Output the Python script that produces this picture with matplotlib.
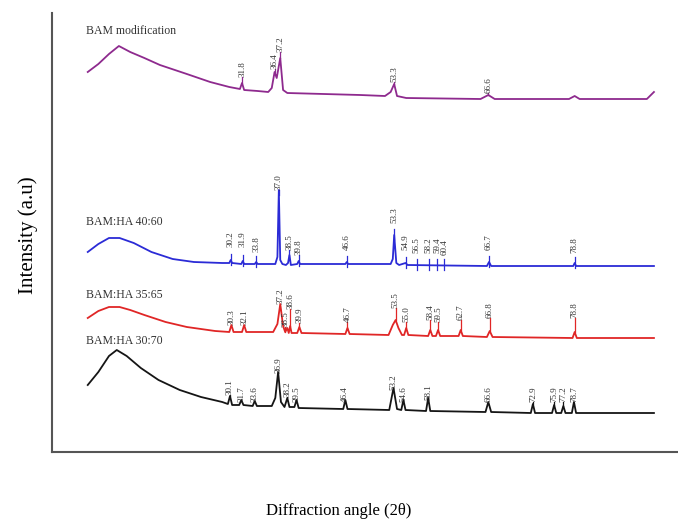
import numpy as np
import matplotlib.pyplot as plt

plt.rcParams['font.family'] = ['Liberation Serif', 'DejaVu Serif']

# XRD patterns: (2theta, intensity in a.u., stacked offsets included)
purple_x = [10.0, 11.5, 13.0, 14.4, 16.0, 18.0, 20.2, 24.0, 27.3, 30.0, 31.5, 31.8, 32.1, 34.0, 35.5,
            36.0, 36.4, 36.7, 37.2, 37.6, 38.2, 48.5, 52.0, 52.8, 53.3, 53.7, 55.0, 65.5, 66.6, 67.5,
            78.0, 78.8, 79.5, 89.0, 90.0]
purple_y = [380, 388, 398, 406, 400, 394, 387, 378, 370, 365, 363, 369, 362, 361, 360,
            364, 380, 374, 394, 362, 359, 357, 356, 360, 368, 356, 354, 353, 357, 353,
            353, 356, 353, 353, 360]

blue_x = [10.0, 11.5, 13.0, 14.5, 16.5, 19.0, 22.0, 25.0, 29.0, 30.0, 30.2, 30.4, 31.7, 31.9, 32.1,
          33.6, 33.8, 34.0, 36.5, 36.8, 37.0, 37.2, 37.5, 38.0, 38.3, 38.5, 38.7, 39.6, 39.8, 40.0,
          46.4, 46.6, 46.8, 52.8, 53.1, 53.3, 53.6, 54.0, 54.9, 55.2, 66.4, 66.7, 67.0, 78.6, 78.8,
          79.0, 90.0]
blue_y = [200, 208, 214, 214, 209, 200, 193, 190, 189, 189, 192, 189, 188, 191, 188,
          188, 190, 188, 188, 195, 262, 192, 188, 187, 189, 197, 187, 188, 191, 188,
          188, 190, 188, 188, 193, 217, 189, 187, 189, 187, 186, 190, 186, 186, 189,
          186, 186]

red_x = [10.0, 11.5, 13.0, 14.5, 16.0, 18.0, 21.0, 24.0, 28.0, 30.0, 30.3, 30.6, 31.8, 32.1, 32.4,
         36.2, 36.8, 37.2, 37.6, 37.9, 38.2, 38.4, 38.6, 38.8, 39.6, 39.9, 40.2, 46.4, 46.7, 47.0,
         52.5, 53.1, 53.5, 53.9, 54.4, 54.7, 55.0, 55.3, 58.1, 58.4, 58.7, 59.2, 59.5, 59.8, 62.4,
         62.7, 63.0, 66.4, 66.8, 67.2, 78.5, 78.8, 79.1, 90.0]
red_y = [134, 141, 145, 145, 142, 137, 130, 125, 121, 120, 127, 120, 120, 127, 120,
         120, 128, 148, 126, 120, 124, 119, 126, 119, 119, 125, 119, 118, 124, 118,
         117, 127, 132, 124, 117, 117, 124, 117, 116, 122, 116, 116, 122, 116, 116,
         122, 116, 115, 121, 115, 114, 120, 114, 114]

black_x = [10.0, 11.5, 13.0, 14.1, 15.5, 17.5, 20.0, 23.0, 26.0, 29.0, 29.8, 30.1, 30.4, 31.4, 31.7,
           32.0, 33.3, 33.6, 33.9, 36.0, 36.5, 36.9, 37.3, 37.8, 38.2, 38.5, 39.2, 39.5, 39.8, 46.1,
           46.4, 46.7, 52.6, 53.2, 53.7, 54.3, 54.6, 54.9, 57.8, 58.1, 58.4, 66.2, 66.6, 67.0, 72.6,
           72.9, 73.2, 75.6, 75.9, 76.2, 76.9, 77.2, 77.5, 78.4, 78.7, 79.0, 90.0]
black_y = [67, 80, 96, 102, 96, 84, 72, 62, 55, 50, 48, 56, 47, 47, 52,
           47, 46, 51, 46, 46, 54, 80, 50, 45, 54, 45, 45, 52, 44, 43,
           52, 43, 42, 64, 43, 42, 52, 42, 41, 54, 41, 40, 50, 40, 39,
           48, 39, 39, 47, 39, 39, 46, 39, 39, 50, 39, 39]

# peak annotations: angle, label text, label bottom height
purple_peaks = [31.8, 36.4, 37.2, 53.3, 66.6]
purple_tops = [375, 383, 400, 370, 359]
blue_peaks = [30.2, 31.9, 33.8, 37.0, 38.5, 39.8, 46.6, 53.3, 54.9, 56.5, 58.2, 59.4, 60.4, 66.7, 78.8]
blue_tops = [205, 205, 200, 262, 202, 197, 202, 229, 202, 199, 199, 199, 197, 202, 199]
red_peaks = [30.3, 32.1, 37.2, 37.9, 38.6, 39.9, 46.7, 53.5, 55.0, 58.4, 59.5, 62.7, 66.8, 78.8]
red_labels = ['30.3', '32.1', '37.2', '38.5', '38.6', '39.9', '46.7', '53.5', '55.0', '58.4', '59.5',
              '62.7', '66.8', '78.8']
red_tops = [127, 127, 148, 125, 143, 129, 130, 144, 130, 132, 130, 132, 134, 134]
black_peaks = [30.1, 31.7, 33.6, 36.9, 38.2, 39.5, 46.4, 53.2, 54.6, 58.1, 66.6, 72.9, 75.9, 77.2, 78.7]
black_tops = [57, 50, 50, 79, 55, 50, 50, 62, 50, 52, 50, 50, 50, 50, 50]

series = [
    ('BAM modification', purple_x, purple_y, purple_peaks, [f'{p:.1f}' for p in purple_peaks], purple_tops, '#8e2a8e', 415),
    ('BAM:HA 40:60', blue_x, blue_y, blue_peaks, [f'{p:.1f}' for p in blue_peaks], blue_tops, '#2b2bd6', 224),
    ('BAM:HA 35:65', red_x, red_y, red_peaks, red_labels, red_tops, '#e02626', 151),
    ('BAM:HA 30:70', black_x, black_y, black_peaks, [f'{p:.1f}' for p in black_peaks], black_tops, '#151515', 105),
]

fig = plt.figure(figsize=(6.78, 5.23), dpi=100)
ax = fig.add_axes([52 / 678, 71 / 523, 626 / 678, 439 / 523])

for name, xs, ys, peaks, labels, tops, color, ly in series:
    ax.plot(xs, ys, color=color, lw=1.3, solid_joinstyle='round')
    for p, lab, top in zip(peaks, labels, tops):
        base = np.interp(p, xs, ys)
        if name == 'BAM:HA 40:60':
            # short cross ticks on the blue pattern
            ax.plot([p, p], [base - 5, min(base + 6, top)], color=color, lw=0.9)
        else:
            ax.plot([p, p], [min(base, top), top], color=color, lw=0.9)
        ax.text(p, top, lab, rotation=90, ha='center', va='bottom', fontsize=6.5, color='#333333')
    ax.text(9.75, ly, name, fontsize=8.5, color='#333333', ha='left', va='bottom')

ax.set_xlim(4.95, 93.4)
ax.set_ylim(0, 439)
ax.set_xticks([])
ax.set_yticks([])
for side in ['top', 'right']:
    ax.spines[side].set_visible(False)
for side in ['left', 'bottom']:
    ax.spines[side].set_color('#555555')
    ax.spines[side].set_linewidth(1.5)

fig.text(0.5, 12 / 523, 'Diffraction angle (2θ)', ha='center', va='center', fontsize=12)
fig.text(28 / 678, 1 - 235 / 523, 'Intensity (a.u)', rotation=90, ha='center', va='center', fontsize=15)

fig.savefig('out.png', dpi=100)
